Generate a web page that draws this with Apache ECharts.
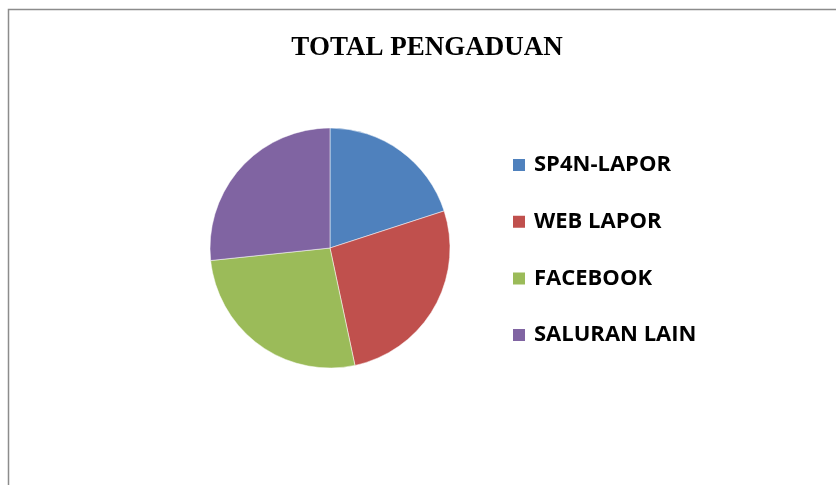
<!DOCTYPE html>
<html>
<head>
<meta charset="utf-8">
<script src="https://cdn.jsdelivr.net/npm/echarts@6/dist/echarts.min.js"></script>
<style>
  html, body { margin: 0; padding: 0; background: #fff; }
  #chart { width: 836px; height: 485px; }
</style>
</head>
<body>
<div id="chart"></div>
<script>
// 数据
const categories = ['SP4N-LAPOR', 'WEB LAPOR', 'FACEBOOK', 'SALURAN LAIN'];
const values = [15, 20, 20, 20];
const colors = ['#4f81bd', '#c0504d', '#9bbb59', '#8064a2'];

const myChart = echarts.init(document.getElementById('chart'));
const option = {
    animation: false,
    color: colors,
    title: {
        text: 'TOTAL PENGADUAN',
        left: 427,
        top: 35,
        padding: 0,
        textAlign: 'center',
        textStyle: {
            fontFamily: 'Liberation Serif',
            fontWeight: 'bold',
            fontSize: 27,
            color: '#000'
        }
    },
    // 外框
    graphic: [{
        type: 'rect',
        shape: { x: 8.5, y: 9.5, width: 900, height: 600 },
        style: { fill: 'none', stroke: '#8c8c8c', lineWidth: 1.5 },
        silent: true
    }],
    legend: {
        orient: 'vertical',
        left: 511,
        top: 154,
        padding: 0,
        itemWidth: 14,
        itemHeight: 14,
        itemGap: 34.7,
        icon: 'rect',
        data: categories,
        textStyle: {
            fontFamily: 'Open Sans',
            fontWeight: 'bold',
            fontSize: 22,
            lineHeight: 22,
            color: '#000',
            padding: [0, 0, 0, 3]
        }
    },
    series: [{
        type: 'pie',
        center: [330, 248],
        radius: 120,
        startAngle: 90,
        clockwise: true,
        label: { show: false },
        labelLine: { show: false },
        itemStyle: { borderColor: '#fff', borderWidth: 0.5 },
        data: categories.map((name, i) => ({ name: name, value: values[i] }))
    }]
};
myChart.setOption(option);
</script>
</body>
</html>
